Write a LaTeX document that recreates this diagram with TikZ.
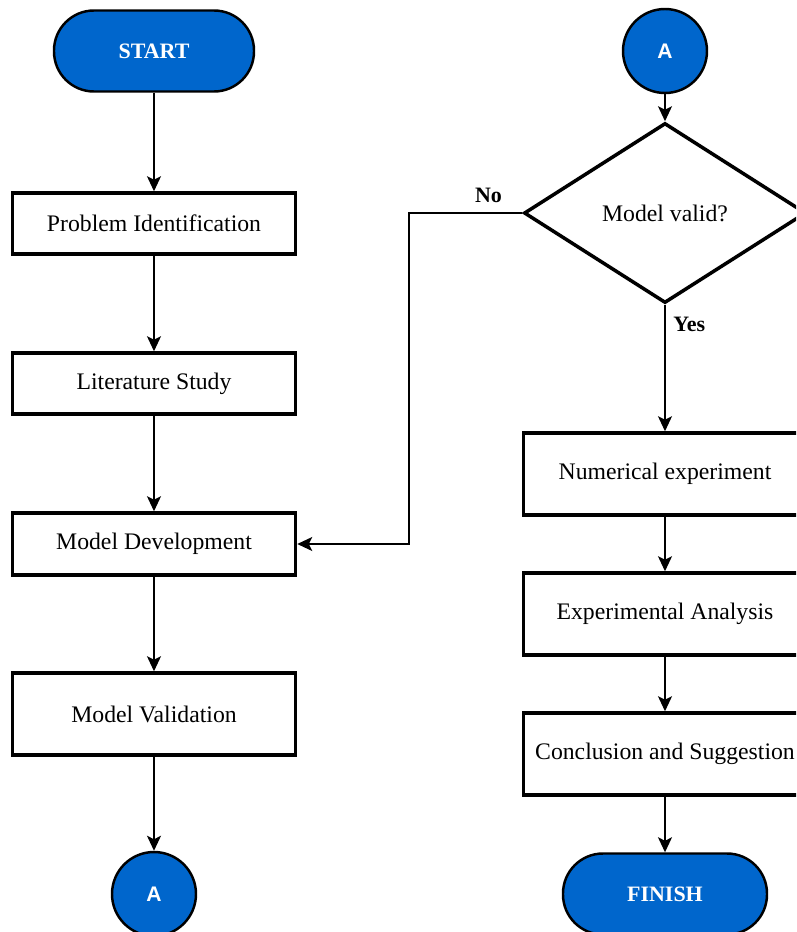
\documentclass[tikz,border=0pt]{standalone}
\usepackage{fontspec}
\setmainfont{Liberation Serif}
\newfontfamily\circfont{Liberation Sans}
\usetikzlibrary{arrows.meta,positioning,shapes.geometric}
\definecolor{flowblue}{HTML}{0066CC}
\tikzset{stepbox/.style={draw,line width=2pt,minimum width=5.66cm,align=center,fill=white,font=\fontsize{13.5}{16}\selectfont},
  term/.style={draw,line width=1.4pt,fill=flowblue,rounded corners=0.8cm,minimum width=4cm,minimum height=1.62cm,text=white,font=\fontsize{12.5}{15}\selectfont\bfseries},
  conn/.style={circle,draw,line width=1.4pt,fill=flowblue,minimum size=1.68cm,inner sep=0pt,text=white,font=\circfont\fontsize{12}{14}\selectfont\bfseries},
  arr/.style={-{Stealth[length=3mm,width=2.8mm,inset=0.7mm]},line width=0.85pt}}
\begin{document}
\begin{tikzpicture}[>=Stealth,
  dec/.style={diamond,draw,line width=2pt,minimum width=5.64cm,minimum height=3.6cm,inner sep=0pt,aspect=1.57,font=\fontsize{13.5}{16}\selectfont},
  lbl/.style={inner sep=0pt,font=\fontsize{12.5}{15}\selectfont\bfseries}]
\useasboundingbox (0,0) rectangle (15.92,-18.64);
\clip (0,0) rectangle (15.92,-18.64);
% left column
\node[term] (start) at (3.08,-1.02) {START};
\node[stepbox,minimum height=1.22cm] (pi) at (3.08,-4.47) {Problem Identification};
\node[stepbox,minimum height=1.22cm] (ls) at (3.08,-7.67) {Literature Study};
\node[stepbox,minimum height=1.24cm] (md) at (3.08,-10.88) {Model Development};
\node[stepbox,minimum height=1.64cm] (mv) at (3.08,-14.28) {Model Validation};
\node[conn] (ca) at (3.08,-17.88) {A};
% right column
\node[conn] (cb) at (13.3,-1.02) {A};
\node[dec] (val) at (13.3,-4.26) {Model valid?};
\node[stepbox,minimum height=1.64cm] (ne) at (13.3,-9.48) {Numerical experiment};
\node[stepbox,minimum height=1.64cm] (ea) at (13.3,-12.28) {Experimental Analysis};
\node[stepbox,minimum height=1.64cm] (cs) at (13.3,-15.08) {Conclusion and Suggestion};
\node[term,minimum width=4.08cm] (fin) at (13.3,-17.88) {FINISH};
\node[lbl,above left=0.2cm and 0.4cm of val.west] (no) {No};
\node[lbl,below right=0.24cm and 0.16cm of val.south] (yes) {Yes};
\coordinate (bend) at (8.18,-4.26);
% connectors
\draw[arr] (start) -- (pi);
\draw[arr] (pi) -- (ls);
\draw[arr] (ls) -- (md);
\draw[arr] (md) -- (mv);
\draw[arr] (mv) -- (ca);
\draw[arr] (cb) -- (val);
\draw[arr] (val) -- (ne);
\draw[arr] (ne) -- (ea);
\draw[arr] (ea) -- (cs);
\draw[arr] (cs) -- (fin);
\draw[arr] (val.west) -- (bend) |- (md.east);
\end{tikzpicture}
\end{document}
